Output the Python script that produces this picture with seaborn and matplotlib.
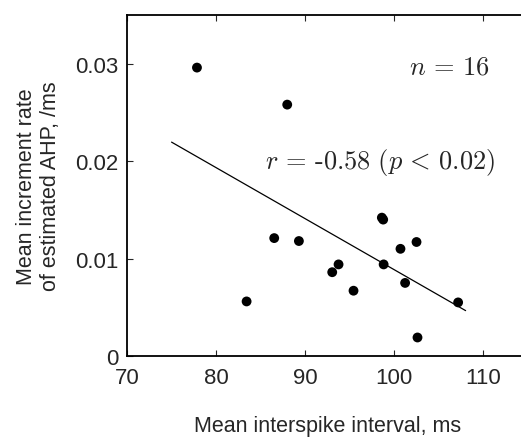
import numpy as np
import pandas as pd
import seaborn as sns
import matplotlib
matplotlib.use('Agg')
import matplotlib.pyplot as plt

# values
isi_ms = [77.85, 87.98, 86.52, 89.29, 83.42, 93.03, 93.74, 95.42,
          98.6, 98.75, 98.8, 100.69, 102.49, 101.21, 107.16, 102.6]
ahp_rate = [0.0296, 0.0258, 0.0121, 0.0118, 0.0056, 0.0086, 0.0094, 0.0067,
            0.0142, 0.0140, 0.0094, 0.0110, 0.0117, 0.0075, 0.0055, 0.0019]
fit_range = [75.0, 108.0]
x_ticks = [70, 80, 90, 100, 110]
y_ticks = [0, 0.01, 0.02, 0.03]
y_tick_labels = ['0', '0.01', '0.02', '0.03']

df = pd.DataFrame({'isi': isi_ms, 'rate': ahp_rate})
slope, icpt = np.polyfit(df['isi'], df['rate'], 1)
line_df = pd.DataFrame({'isi': fit_range})
line_df['rate'] = slope * line_df['isi'] + icpt

sns.set_style('ticks')
plt.rcParams['font.family'] = ['Liberation Sans', 'DejaVu Sans']
plt.rcParams['mathtext.fontset'] = 'cm'

fig = plt.figure(figsize=(5.21, 4.39), dpi=100)
ax = fig.add_axes([0.2438, 0.1868, 0.7696, 0.7768])

sns.scatterplot(data=df, x='isi', y='rate', ax=ax, color='black',
                s=50, edgecolor='none', zorder=3)
sns.lineplot(data=line_df, x='isi', y='rate', ax=ax, color='black',
             lw=0.9, zorder=2)

ax.set_xlim(70, 115)
ax.set_ylim(0, 0.035)
ax.set_xticks(x_ticks)
ax.set_yticks(y_ticks)
ax.set_yticklabels(y_tick_labels)
ax.tick_params(direction='in', length=4, width=0.8, labelsize=16,
               top=True, right=True)
ax.tick_params(axis='y', pad=6)
ax.tick_params(axis='x', pad=8)
for sp in ax.spines.values():
    sp.set_linewidth(1.3)
    sp.set_color('black')

ax.set_xlabel('Mean interspike interval, ms', fontsize=15.5, labelpad=19.5)
ax.set_ylabel('Mean increment rate\nof estimated AHP, /ms', fontsize=15.5,
              labelpad=10, linespacing=1.2)

ax.text(110.7, 0.0297, r'$n\, =\, 16$', fontsize=19, ha='right', va='center')
ax.text(111.3, 0.0200, r'$r\, =\,\mathrm{\text{-}0.58}\ (p\, <\, 0.02)$',
        fontsize=19, ha='right', va='center')

fig.savefig('out.png', dpi=100)
